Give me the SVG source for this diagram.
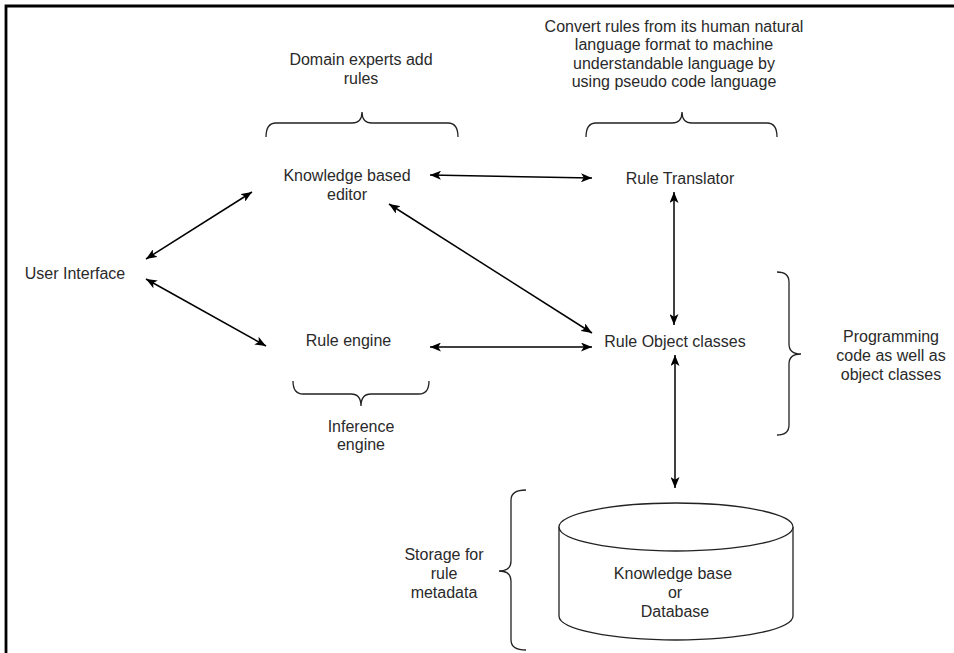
<svg xmlns="http://www.w3.org/2000/svg" width="954" height="653" viewBox="0 0 954 653">
  <style>
    .lbl { font-family: "Liberation Sans", Arial, sans-serif; font-size: 16px; fill: #2a2a2a; text-anchor: middle; }
    .conn { stroke: #000; stroke-width: 1.5; fill: none; marker-start: url(#arrow); marker-end: url(#arrow); }
    .brace { stroke: #222; stroke-width: 1.3; fill: none; }
    .frame { stroke: #000; stroke-width: 2.8; fill: none; }
  </style>
  <defs>
    <marker id="arrow" viewBox="0 0 11 9" refX="11" refY="4.5" markerWidth="11" markerHeight="9" markerUnits="userSpaceOnUse" orient="auto-start-reverse">
      <path d="M0,0 L11,4.5 L0,9 L2.8,4.5 z" fill="#000"/>
    </marker>
  </defs>

  <rect width="954" height="653" fill="#fff"/>
  <!-- page frame (top and left edges) -->
  <path class="frame" d="M6,653 L6,6 L954,6"/>

  <!-- connectors -->
  <g id="connectors">
    <line class="conn" x1="146" y1="259" x2="252" y2="192"/>
    <line class="conn" x1="146" y1="279" x2="266" y2="346"/>
    <line class="conn" x1="430" y1="175" x2="592" y2="178"/>
    <line class="conn" x1="389" y1="204" x2="592" y2="333"/>
    <line class="conn" x1="430" y1="347" x2="592" y2="347"/>
    <line class="conn" x1="674" y1="192" x2="674" y2="325"/>
    <line class="conn" x1="675" y1="355" x2="675" y2="488"/>
  </g>

  <g id="user-interface">
    <text class="lbl" x="75" y="279">User Interface</text>
  </g>

  <g id="knowledge-editor">
    <text class="lbl" x="347" y="181">Knowledge based</text>
    <text class="lbl" x="347" y="199.5">editor</text>
  </g>

  <g id="rule-translator">
    <text class="lbl" x="680" y="184">Rule Translator</text>
  </g>

  <g id="rule-engine">
    <text class="lbl" x="348.5" y="346">Rule engine</text>
  </g>

  <g id="rule-object-classes">
    <text class="lbl" x="675" y="347">Rule Object classes</text>
  </g>

  <g id="database">
    <path d="M559,527 L559,616 A117,24 0 0 0 793,616 L793,527" fill="#fff" stroke="#222" stroke-width="1.3"/>
    <ellipse cx="676" cy="527" rx="117" ry="24" fill="#fff" stroke="#222" stroke-width="1.3"/>
    <text class="lbl" x="673" y="579">Knowledge base</text>
    <text class="lbl" x="675" y="598">or</text>
    <text class="lbl" x="675" y="617">Database</text>
  </g>

  <g id="domain-experts-note">
    <path class="brace" d="M266,137 Q266,123 276,123 L352,123 Q362,123 362,112 Q362,123 372,123 L448,123 Q458,123 458,137"/>
    <text class="lbl" x="361" y="65">Domain experts add</text>
    <text class="lbl" x="361" y="83.5">rules</text>
  </g>

  <g id="translation-note">
    <path class="brace" d="M586,137 Q586,123 596,123 L672,123 Q682,123 682,112 Q682,123 692,123 L767,123 Q777,123 777,137"/>
    <text class="lbl" x="674" y="31.5">Convert rules from its human natural</text>
    <text class="lbl" x="674" y="50">language format to machine</text>
    <text class="lbl" x="674" y="68.5">understandable language by</text>
    <text class="lbl" x="674" y="87">using pseudo code language</text>
  </g>

  <g id="inference-note">
    <path class="brace" d="M293,381 Q293,394 303,394 L351,394 Q361,394 361,406 Q361,394 371,394 L419,394 Q429,394 429,381"/>
    <text class="lbl" x="361" y="431.5">Inference</text>
    <text class="lbl" x="361" y="449.5">engine</text>
  </g>

  <g id="programming-note">
    <path class="brace" d="M777,272 Q789,272 789,282 L789,344 Q789,354 801,354 Q789,354 789,364 L789,425 Q789,435 777,435"/>
    <text class="lbl" x="891" y="341.5">Programming</text>
    <text class="lbl" x="891" y="361">code as well as</text>
    <text class="lbl" x="891" y="379.5">object classes</text>
  </g>

  <g id="storage-note">
    <path class="brace" d="M526,490 Q511,490 511,500 L511,561 Q511,571 499,571 Q511,571 511,581 L511,640 Q511,650 526,650"/>
    <text class="lbl" x="444" y="560">Storage for</text>
    <text class="lbl" x="444" y="579">rule</text>
    <text class="lbl" x="444" y="598">metadata</text>
  </g>
</svg>
